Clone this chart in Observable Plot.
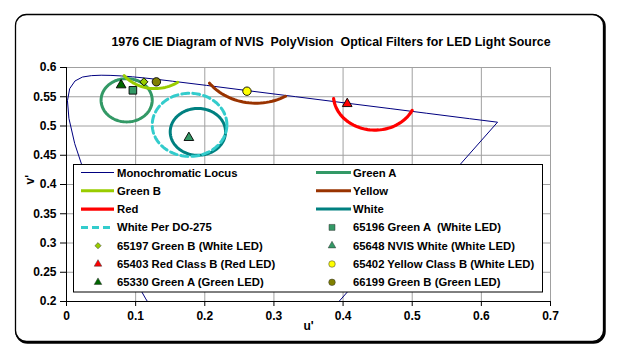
<!DOCTYPE html>
<html><head><meta charset="utf-8">
<script src="https://cdn.jsdelivr.net/npm/d3@7"></script>
<script src="https://cdn.jsdelivr.net/npm/@observablehq/plot@0.6"></script>
<style>
body{margin:0;background:#fff}
#chart{position:relative;width:622px;height:350px}
</style>
</head><body><div id="chart"></div>
<script>
// ---------- text ----------
const titleText = "1976 CIE Diagram of NVIS  PolyVision  Optical Filters for LED Light Source";
const xTitle = "u'";
const yTitle = "v'";
const xTicks = [0, 0.1, 0.2, 0.3, 0.4, 0.5, 0.6, 0.7];
const xTickLabels = ["0", "0.1", "0.2", "0.3", "0.4", "0.5", "0.6", "0.7"];
const yTicks = [0.2, 0.25, 0.3, 0.35, 0.4, 0.45, 0.5, 0.55, 0.6];
const yTickLabels = ["0.2", "0.25", "0.3", "0.35", "0.4", "0.45", "0.5", "0.55", "0.6"];

// ---------- monochromatic locus (u', v'), 380 nm ... 700 nm, closed by the purple line ----------
const locusU = [0.2568, 0.2522, 0.2347, 0.2161, 0.1877, 0.1441, 0.1147, 0.0828, 0.0521, 0.0282, 0.0119, 0.0035, 0.0014, 0.0046, 0.0123, 0.0231, 0.0360, 0.0501, 0.0643, 0.0792, 0.0953, 0.1127, 0.1319, 0.1531, 0.2026, 0.2623, 0.3315, 0.4035, 0.4692, 0.5203, 0.5830, 0.6234, 0.2568];
const locusV = [0.0166, 0.0169, 0.0350, 0.0549, 0.0871, 0.1510, 0.2044, 0.2708, 0.3427, 0.4117, 0.4698, 0.5131, 0.5432, 0.5638, 0.5770, 0.5837, 0.5861, 0.5868, 0.5865, 0.5856, 0.5841, 0.5821, 0.5796, 0.5766, 0.5694, 0.5604, 0.5501, 0.5393, 0.5296, 0.5219, 0.5125, 0.5065, 0.0166];

// ---------- colour regions: centre, radius and the visible arc (degrees) ----------
const regionNames = ["Green A", "Green B", "Yellow", "Red", "White", "White Per DO-275"];
const regionU = [0.087, 0.128, 0.274, 0.446, 0.190, 0.178];
const regionV = [0.544, 0.620, 0.622, 0.553, 0.490, 0.502];
const regionR = [0.037, 0.056, 0.083, 0.060, 0.040, 0.054];
const arcFrom = [0, -143, -144, -174, 0, 0];
const arcTo = [360, -54, -59, -26, 360, 360];

// ---------- measured filters ----------
const sampleNames = ["65196 Green A  (White LED)", "65197 Green B (White LED)", "65648 NVIS White (White LED)", "65403 Red Class B (Red LED)", "65402 Yellow Class B (White LED)", "65330 Green A (Green LED)", "66199 Green B (Green LED)"];
const sampleU = [0.096, 0.112, 0.177, 0.406, 0.261, 0.079, 0.130];
const sampleV = [0.561, 0.5755, 0.480, 0.538, 0.5595, 0.570, 0.5755];

// ---------- styles ----------
const lineStyle = {
  "Monochromatic Locus": {stroke: "#000080", strokeWidth: 1},
  "Green A": {stroke: "#339966", strokeWidth: 3},
  "Green B": {stroke: "#99cc00", strokeWidth: 3},
  "Yellow": {stroke: "#993300", strokeWidth: 3},
  "Red": {stroke: "#ff0000", strokeWidth: 3.2},
  "White": {stroke: "#008080", strokeWidth: 3},
  "White Per DO-275": {stroke: "#33cccc", strokeWidth: 3, strokeDasharray: "7,4"}
};
const markerStyle = {
  "65196 Green A  (White LED)": {symbol: "square", fill: "#339966", r: 4.3},
  "65197 Green B (White LED)": {symbol: "diamond2", fill: "#99cc00", r: 3.6},
  "65648 NVIS White (White LED)": {symbol: "triangle", fill: "#339966", r: 3.6},
  "65403 Red Class B (Red LED)": {symbol: "triangle", fill: "#ff0000", r: 3.6},
  "65402 Yellow Class B (White LED)": {symbol: "circle", fill: "#ffff00", r: 4.2},
  "65330 Green A (Green LED)": {symbol: "triangle", fill: "#006600", r: 3.6},
  "66199 Green B (Green LED)": {symbol: "circle", fill: "#808000", r: 4.2}
};
const legendOrder = ["Monochromatic Locus", "Green A", "Green B", "Yellow", "Red", "White", "White Per DO-275",
  "65196 Green A  (White LED)", "65197 Green B (White LED)", "65648 NVIS White (White LED)", "65403 Red Class B (Red LED)",
  "65402 Yellow Class B (White LED)", "65330 Green A (Green LED)", "66199 Green B (Green LED)"];

// ---------- build tables ----------
const locus = locusU.map((u, i) => ({u, v: locusV[i]}));
const samples = sampleNames.map((name, i) => ({name, u: sampleU[i], v: sampleV[i]}));
const arcPoints = regionNames.map((name, i) => {
  const a0 = arcFrom[i], a1 = arcTo[i];
  const n = Math.max(12, Math.ceil(Math.abs(a1 - a0) / 3));
  return d3.range(n + 1).map(k => {
    const a = (a0 + (a1 - a0) * k / n) * Math.PI / 180;
    return {name, u: regionU[i] + regionR[i] * Math.cos(a), v: regionV[i] + regionR[i] * Math.sin(a)};
  });
});
const xLab = new Map(xTicks.map((t, i) => [t, xTickLabels[i]]));
const yLab = new Map(yTicks.map((t, i) => [t, yTickLabels[i]]));

const FONT = "'Liberation Sans', Arial, Helvetica, sans-serif";

const plot = Plot.plot({
  width: 622, height: 350,
  marginLeft: 66, marginRight: 72, marginTop: 67, marginBottom: 49,
  x: {domain: [0, 0.7], label: null},
  y: {domain: [0.2, 0.6], label: null},
  style: {fontFamily: FONT, fontSize: "12px", fontWeight: "bold", background: "white", color: "black", overflow: "visible"},
  marks: [
    Plot.gridX(xTicks, {stroke: "#a0a0a0", strokeOpacity: 1, strokeWidth: 1}),
    Plot.gridY(yTicks, {stroke: "#a0a0a0", strokeOpacity: 1, strokeWidth: 1}),
    Plot.ruleX([0], {stroke: "black", strokeWidth: 1}),
    Plot.ruleY([0.2], {stroke: "black", strokeWidth: 1}),
    Plot.axisX(xTicks, {tickSize: 5, tickPadding: 5, tickFormat: d => xLab.get(d), label: null}),
    Plot.axisY(yTicks, {tickSize: 6, tickPadding: 4, tickFormat: d => yLab.get(d), label: null}),
    Plot.line(locus, {x: "u", y: "v", ...lineStyle["Monochromatic Locus"], clip: true}),
    ...arcPoints.map((pts, i) => Plot.line(pts, {x: "u", y: "v", ...lineStyle[regionNames[i]], clip: true})),
    ...samples.map(s => Plot.dot([s], {x: "u", y: "v", symbol: markerStyle[s.name].symbol, fill: markerStyle[s.name].fill, r: markerStyle[s.name].r, stroke: "black", strokeWidth: 0.9})),
    Plot.text([xTitle], {text: d => d, frameAnchor: "bottom", dy: 28, fontSize: 12}),
    Plot.text([yTitle], {text: d => d, frameAnchor: "left", dx: -36, rotate: -90, fontSize: 12})
  ]
});

const svg = d3.select(plot);
// outer rounded frame with shadow
const bg = svg.insert("g", ":first-child");
bg.append("rect").attr("x", 16.5).attr("y", 15.5).attr("width", 588).attr("height", 327).attr("rx", 11)
  .attr("fill", "none").attr("stroke", "black").attr("stroke-width", 2.5);
bg.append("rect").attr("x", 15.5).attr("y", 14.5).attr("width", 588).attr("height", 327).attr("rx", 11)
  .attr("fill", "white").attr("stroke", "black").attr("stroke-width", 1.3);
bg.append("rect").attr("x", 66).attr("y", 67).attr("width", 484).attr("height", 234).attr("fill", "white");

// title
svg.append("text").attr("x", 331).attr("y", 46).attr("text-anchor", "middle")
  .style("white-space", "pre").style("font-size", "12.4px").style("font-weight", "bold").style("font-family", FONT)
  .text(titleText);

// legend
const lg = svg.append("g").attr("text-anchor", "start");
lg.append("rect").attr("x", 73.5).attr("y", 164.5).attr("width", 469).attr("height", 127.5)
  .attr("fill", "white").attr("stroke", "black").attr("stroke-width", 1);
const cols = [{l0: 81, l1: 114, m: 98, t: 117}, {l0: 316, l1: 351, m: 332, t: 353}];
const symMap = {square: d3.symbolSquare, diamond2: d3.symbolDiamond2, triangle: d3.symbolTriangle, circle: d3.symbolCircle};
legendOrder.forEach((name, i) => {
  const c = cols[i % 2];
  const y = 172.5 + 18.3 * Math.floor(i / 2);
  if (lineStyle[name]) {
    const s = lineStyle[name];
    lg.append("line").attr("x1", c.l0).attr("x2", c.l1).attr("y1", y).attr("y2", y)
      .attr("stroke", s.stroke).attr("stroke-width", s.strokeWidth).attr("stroke-dasharray", s.strokeDasharray || null);
  } else {
    const m = markerStyle[name];
    const rr = m.r * 0.78;
    lg.append("path").attr("transform", `translate(${c.m},${y})`)
      .attr("d", d3.symbol(symMap[m.symbol], Math.PI * rr * rr)())
      .attr("fill", m.fill).attr("stroke", "#333").attr("stroke-width", 0.5);
  }
  lg.append("text").attr("x", c.t).attr("y", y).attr("dy", "0.36em").attr("text-anchor", "start")
    .style("white-space", "pre").style("font-size", "11.3px").style("font-weight", "bold").style("font-family", FONT)
    .text(name);
});

document.getElementById("chart").appendChild(plot);
</script>
</body></html>
